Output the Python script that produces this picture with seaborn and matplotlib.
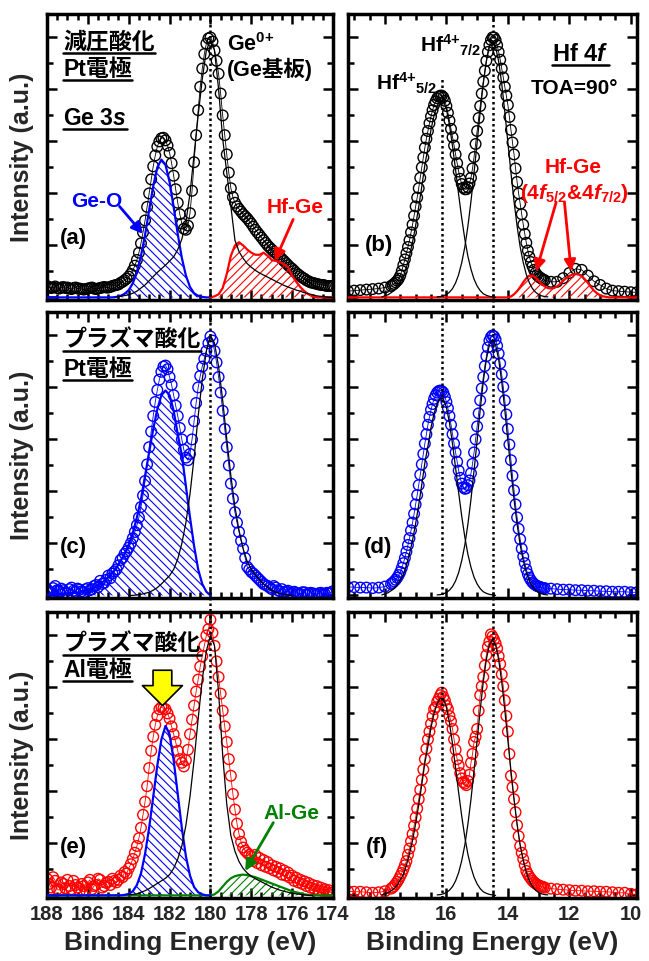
import numpy as np
import matplotlib
matplotlib.use('Agg')
import matplotlib.pyplot as plt
import seaborn as sns
from matplotlib.ticker import MultipleLocator

# ---- energy grids (eV) ----
ge_x = np.round(np.arange(188.0, 173.99, -0.1), 2)       # Ge 3s data, 0.1 eV
ge_fit_x = np.round(np.arange(188.0, 173.99, -0.2), 2)   # Ge 3s fit components
hf_x = np.round(np.concatenate([np.arange(19.2, 17.9, -0.2),
                                np.arange(17.8, 12.79, -0.05),
                                np.arange(12.6, 9.79, -0.2)]), 2)   # Hf 4f data
hf_fit_x = np.round(np.arange(19.2, 9.79, -0.1), 2)      # Hf 4f fit components

# ---- Ge 3s : measured intensity (188.0 -> 174.0 eV) ----
ge_a = [0.22, 0.20, 0.18, 0.19, 0.21, 0.18, 0.17, 0.19, 0.20, 0.18,
        0.19, 0.17, 0.16, 0.18, 0.19, 0.17, 0.17, 0.16, 0.15, 0.16,
        0.17, 0.18, 0.19, 0.17, 0.16, 0.17, 0.18, 0.19, 0.20, 0.19,
        0.19, 0.20, 0.22, 0.23, 0.24, 0.25, 0.28, 0.30, 0.33, 0.36,
        0.40, 0.45, 0.52, 0.61, 0.72, 0.86, 1.04, 1.25, 1.48, 1.74,
        2.00, 2.27, 2.52, 2.73, 2.90, 3.00, 3.06, 3.07, 3.02, 2.92,
        2.78, 2.58, 2.34, 2.08, 1.82, 1.60, 1.42, 1.32, 1.30, 1.38,
        1.62, 2.05, 2.60, 3.12, 3.60, 4.05, 4.40, 4.68, 4.88, 4.98,
        5.00, 4.92, 4.75, 4.55, 4.30, 3.92, 3.50, 3.12, 2.75, 2.40,
        2.10, 1.93, 1.82, 1.75, 1.70, 1.65, 1.60, 1.56, 1.52, 1.47,
        1.42, 1.36, 1.30, 1.25, 1.20, 1.15, 1.10, 1.05, 1.00, 0.96,
        0.92, 0.88, 0.85, 0.82, 0.78, 0.74, 0.70, 0.66, 0.62, 0.58,
        0.55, 0.51, 0.47, 0.44, 0.41, 0.38, 0.36, 0.33, 0.31, 0.29,
        0.28, 0.27, 0.26, 0.25, 0.24, 0.24, 0.23, 0.22, 0.22, 0.22,
        0.22]
ge_c = [0.12, 0.08, 0.05, 0.14, 0.18, 0.10, 0.08, 0.13, 0.10, 0.06,
        0.04, 0.12, 0.15, 0.09, 0.07, 0.13, 0.11, 0.08, 0.06, 0.12,
        0.14, 0.10, 0.12, 0.18, 0.20, 0.16, 0.28, 0.22, 0.24, 0.30,
        0.38, 0.33, 0.42, 0.46, 0.50, 0.58, 0.68, 0.72, 0.80, 0.85,
        0.92, 1.00, 1.10, 1.22, 1.35, 1.50, 1.70, 1.92, 2.20, 2.52,
        2.85, 3.15, 3.45, 3.72, 3.95, 4.15, 4.30, 4.40, 4.42, 4.35,
        4.20, 4.05, 3.85, 3.65, 3.45, 3.22, 3.00, 2.80, 2.65, 2.60,
        2.72, 3.00, 3.35, 3.70, 4.00, 4.22, 4.40, 4.55, 4.70, 4.85,
        4.98, 4.90, 4.70, 4.48, 4.20, 3.90, 3.55, 3.20, 2.85, 2.50,
        2.15, 1.86, 1.60, 1.40, 1.22, 1.05, 0.90, 0.72, 0.55, 0.50,
        0.45, 0.42, 0.38, 0.34, 0.30, 0.26, 0.22, 0.20, 0.18, 0.15,
        0.12, 0.18, 0.15, 0.10, 0.08, 0.12, 0.06, 0.08, 0.09, 0.05,
        0.04, 0.07, 0.05, 0.03, 0.03, 0.06, 0.06, 0.02, 0.03, 0.05,
        0.04, 0.03, 0.02, 0.04, 0.05, 0.02, 0.03, 0.05, 0.04, 0.06,
        0.08]
ge_e = [0.32, 0.22, 0.15, 0.35, 0.28, 0.12, 0.10, 0.25, 0.22, 0.14,
        0.30, 0.18, 0.12, 0.28, 0.20, 0.15, 0.08, 0.22, 0.18, 0.10,
        0.25, 0.30, 0.12, 0.18, 0.20, 0.32, 0.30, 0.15, 0.18, 0.24,
        0.26, 0.20, 0.32, 0.28, 0.25, 0.30, 0.38, 0.35, 0.45, 0.42,
        0.52, 0.60, 0.70, 0.82, 0.95, 1.10, 1.30, 1.55, 1.80, 2.10,
        2.45, 2.78, 3.05, 3.28, 3.45, 3.58, 3.62, 3.60, 3.58, 3.50,
        3.40, 3.25, 3.10, 2.95, 2.78, 2.62, 2.55, 2.48, 2.60, 2.80,
        3.10, 3.38, 3.65, 3.92, 4.15, 4.40, 4.60, 4.80, 5.00, 5.12,
        5.30, 5.05, 4.80, 4.50, 4.20, 3.88, 3.55, 3.25, 2.95, 2.62,
        2.30, 1.95, 1.65, 1.38, 1.18, 1.03, 0.92, 0.86, 0.82, 0.78,
        0.75, 0.66, 0.78, 0.62, 0.72, 0.58, 0.68, 0.55, 0.64, 0.52,
        0.58, 0.48, 0.55, 0.45, 0.52, 0.40, 0.48, 0.38, 0.44, 0.34,
        0.38, 0.28, 0.34, 0.25, 0.30, 0.22, 0.27, 0.18, 0.24, 0.15,
        0.20, 0.12, 0.18, 0.10, 0.15, 0.08, 0.12, 0.06, 0.10, 0.05,
        0.06]

# ---- Ge 3s : fitted components (start energy, values every 0.2 eV) ----
geo_a = (188.0, [0.0] * 17 + [0.01, 0.03, 0.07, 0.14, 0.27, 0.48, 0.80, 1.20, 1.68, 2.14,
                              2.50, 2.65, 2.55, 2.22, 1.74, 1.22, 0.76, 0.42, 0.20, 0.08,
                              0.03, 0.01, 0.0, 0.0])
ge0_a = (184.6, [0.01, 0.02, 0.035,
                 0.05, 0.08, 0.12, 0.18, 0.24, 0.32, 0.40, 0.48, 0.55, 0.62,
                 0.70, 0.78, 0.92, 1.12, 1.45, 2.00, 2.75, 3.50, 4.20, 4.75,
                 4.95, 4.75, 4.00, 3.05, 2.40, 1.75, 1.10, 0.88, 0.75, 0.65,
                 0.58, 0.52, 0.47, 0.43, 0.39, 0.35, 0.31, 0.27, 0.23, 0.20,
                 0.17, 0.14, 0.12, 0.09, 0.07, 0.05, 0.03, 0.02, 0.01, 0.0,
                 0.0])
hfge_a = (180.0, [0.0, 0.02, 0.06, 0.18, 0.45, 0.80, 1.00, 1.06, 1.00, 0.92,
                  0.86, 0.82, 0.82, 0.86, 0.80, 0.72, 0.70, 0.68, 0.64, 0.58,
                  0.42, 0.30, 0.20, 0.12, 0.06, 0.02, 0.0, 0.0, 0.0, 0.0,
                  0.0])
geo_c = (188.0, [0.01, 0.01, 0.02, 0.02, 0.03, 0.03, 0.04, 0.05, 0.06, 0.08,
                 0.10, 0.13, 0.17, 0.22, 0.28, 0.35, 0.44, 0.54, 0.66, 0.80,
                 0.98, 1.20, 1.50, 1.85, 2.30, 2.75, 3.20, 3.58, 3.85, 3.94,
                 3.85, 3.55, 3.10, 2.70, 2.10, 1.50, 0.95, 0.50, 0.22, 0.07,
                 0.0])
ge0_c = (184.0, [0.0, 0.0, 0.01, 0.02, 0.04, 0.06, 0.10, 0.15, 0.22, 0.30,
                 0.38, 0.50, 0.70, 1.00, 1.40, 1.95, 2.65, 3.45, 4.15, 4.70,
                 5.00, 4.85, 4.40, 3.75, 3.00, 2.30, 1.70, 1.25, 0.90, 0.65,
                 0.50, 0.40, 0.30, 0.22, 0.15, 0.10, 0.06, 0.04, 0.02, 0.01,
                 0.0])
geo_e = (188.0, [0.0] * 19 + [0.01, 0.03, 0.08, 0.20, 0.42, 0.80, 1.30, 1.90, 2.50, 3.00,
                              3.26, 3.10, 2.60, 1.95, 1.30, 0.75, 0.38, 0.16, 0.06, 0.02,
                              0.0, 0.0])
ge0_e = (184.0, [0.01, 0.02, 0.03, 0.06, 0.09, 0.13, 0.18, 0.23, 0.28, 0.33,
                 0.40, 0.52, 0.70, 0.95, 1.35, 1.90, 2.60, 3.40, 4.15, 4.70,
                 5.00, 4.80, 3.90, 2.70, 1.75, 1.15, 0.85, 0.65, 0.52, 0.43,
                 0.37, 0.32, 0.28, 0.24, 0.20, 0.16, 0.13, 0.10, 0.08, 0.06,
                 0.04, 0.03, 0.02, 0.01, 0.0, 0.0])
alge_e = (188.0, [0.0] * 40 + [0.0, 0.02, 0.08, 0.17, 0.26, 0.33, 0.37, 0.39, 0.40, 0.39,
                               0.37, 0.35, 0.32, 0.29, 0.26, 0.23, 0.20, 0.17, 0.14, 0.11,
                               0.08, 0.06, 0.04, 0.02, 0.01, 0.0, 0.0, 0.0, 0.0, 0.0,
                               0.0])

# ---- Hf 4f : measured intensity (19.2-18.0 by 0.2, 17.8-12.8 by 0.05, 12.6-9.8 by 0.2) ----
hf_b = ([0.12, 0.13, 0.14, 0.15, 0.16, 0.17, 0.19] +
        [0.22, 0.24, 0.26, 0.29, 0.32, 0.36, 0.42, 0.51, 0.62, 0.73,
         0.85, 0.97, 1.10, 1.25, 1.40, 1.57, 1.75, 1.92, 2.10, 2.30,
         2.50, 2.69, 2.88, 3.05, 3.20, 3.35, 3.48, 3.60, 3.70, 3.77,
         3.83, 3.86, 3.88, 3.88, 3.85, 3.78, 3.68, 3.55, 3.40, 3.24,
         3.08, 2.92, 2.75, 2.58, 2.42, 2.28, 2.18, 2.11, 2.08, 2.08,
         2.12, 2.19, 2.30, 2.48, 2.70, 2.95, 3.20, 3.45, 3.68, 3.92,
         4.15, 4.36, 4.55, 4.72, 4.85, 4.95, 5.00, 5.00, 4.95, 4.85,
         4.72, 4.57, 4.40, 4.23, 4.05, 3.88, 3.70, 3.47, 3.22, 2.98,
         2.75, 2.48, 2.22, 2.00, 1.80, 1.60, 1.40, 1.22, 1.05, 0.90,
         0.78, 0.68, 0.60, 0.53, 0.47, 0.43, 0.40, 0.38, 0.36, 0.34,
         0.33] +
        [0.30, 0.30, 0.37, 0.47, 0.55, 0.53, 0.42, 0.31, 0.24, 0.17,
         0.13, 0.12, 0.11, 0.10, 0.10])
hf_d = ([0.16, 0.16, 0.15, 0.15, 0.14, 0.15, 0.17] +
        [0.22, 0.24, 0.27, 0.30, 0.34, 0.39, 0.45, 0.53, 0.62, 0.72,
         0.84, 0.97, 1.10, 1.25, 1.40, 1.57, 1.75, 1.93, 2.12, 2.32,
         2.52, 2.72, 2.92, 3.10, 3.28, 3.43, 3.57, 3.68, 3.78, 3.85,
         3.90, 3.93, 3.94, 3.93, 3.90, 3.82, 3.72, 3.60, 3.45, 3.28,
         3.10, 2.92, 2.75, 2.57, 2.40, 2.26, 2.15, 2.08, 2.05, 2.06,
         2.12, 2.21, 2.35, 2.53, 2.75, 3.00, 3.25, 3.50, 3.75, 3.98,
         4.20, 4.41, 4.60, 4.77, 4.90, 4.97, 5.00, 4.98, 4.92, 4.80,
         4.65, 4.46, 4.25, 4.01, 3.75, 3.48, 3.20, 2.90, 2.60, 2.30,
         2.02, 1.75, 1.50, 1.28, 1.08, 0.90, 0.75, 0.62, 0.50, 0.41,
         0.34, 0.29, 0.25, 0.22, 0.20, 0.18, 0.17, 0.16, 0.15, 0.14,
         0.14] +
        [0.13, 0.12, 0.11, 0.11, 0.10, 0.10, 0.09, 0.09, 0.08, 0.08,
         0.07, 0.07, 0.07, 0.06, 0.06])
hf_f = ([0.08, 0.07, 0.07, 0.06, 0.05, 0.06, 0.08] +
        [0.13, 0.15, 0.18, 0.22, 0.26, 0.31, 0.37, 0.43, 0.50, 0.58,
         0.66, 0.78, 0.90, 1.04, 1.18, 1.34, 1.50, 1.67, 1.85, 2.03,
         2.22, 2.42, 2.62, 2.82, 3.00, 3.15, 3.30, 3.45, 3.58, 3.62,
         3.72, 3.78, 3.85, 3.90, 3.82, 3.75, 3.65, 3.58, 3.45, 3.35,
         3.20, 3.00, 2.80, 2.62, 2.50, 2.35, 2.25, 2.18, 2.15, 2.12,
         2.20, 2.32, 2.55, 2.72, 2.95, 3.05, 3.20, 3.55, 3.85, 4.02,
         4.20, 4.42, 4.62, 4.78, 4.88, 5.02, 4.98, 4.92, 4.85, 4.75,
         4.60, 4.45, 4.25, 4.02, 3.75, 3.45, 3.15, 2.72, 2.30, 2.08,
         1.85, 1.60, 1.35, 1.14, 0.95, 0.82, 0.70, 0.58, 0.47, 0.41,
         0.36, 0.32, 0.28, 0.25, 0.23, 0.21, 0.19, 0.18, 0.17, 0.16,
         0.15] +
        [0.13, 0.12, 0.11, 0.10, 0.09, 0.09, 0.08, 0.08, 0.07, 0.07,
         0.06, 0.05, 0.05, 0.03, 0.02])

# ---- Hf 4f : fitted components (start energy, values every 0.1 eV) ----
hf52_fit = (18.1, [0.01, 0.03, 0.05, 0.09, 0.13, 0.20, 0.30, 0.40, 0.58, 0.80,
                   1.06, 1.38, 1.74, 2.13, 2.55, 2.87, 3.23, 3.50, 3.69, 3.79,
                   3.78, 3.62, 3.32, 2.91, 2.45, 1.97, 1.52, 1.12, 0.79, 0.54,
                   0.35, 0.22, 0.13, 0.07, 0.04, 0.02, 0.01, 0.0])
hf72_fit = (16.3, [0.01, 0.015, 0.03, 0.055, 0.10, 0.17, 0.28, 0.44, 0.67, 0.97,
                   1.37, 1.85, 2.40, 2.98, 3.57, 4.11, 4.54, 4.82, 4.92, 4.82,
                   4.54, 4.11, 3.57, 2.98, 2.40, 1.85, 1.37, 0.97, 0.67, 0.44,
                   0.28, 0.17, 0.10, 0.055, 0.03, 0.015, 0.01])
hfge_b = (19.2, [0.0] * 52 + [0.0, 0.02, 0.06, 0.12, 0.20, 0.29, 0.37, 0.42, 0.42, 0.38,
                              0.32, 0.26, 0.21, 0.18, 0.17, 0.18, 0.21, 0.26, 0.32, 0.37,
                              0.41, 0.44, 0.45, 0.44, 0.41, 0.35, 0.28, 0.20, 0.13, 0.08,
                              0.04, 0.02, 0.01, 0.0] + [0.0] * 9)

for arr in (ge_a, ge_c, ge_e):
    assert len(arr) == len(ge_x)
for arr in (hf_b, hf_d, hf_f):
    assert len(arr) == len(hf_x)
assert len(hfge_b[1]) == len(hf_fit_x)

BLUE, RED, GREEN = '#0000ff', '#ff0000', '#008000'
FONT = ['Liberation Sans', 'Noto Sans CJK JP']

sns.set_style('ticks')
plt.rcParams['font.family'] = FONT
plt.rcParams['font.weight'] = 'bold'
plt.rcParams['mathtext.fontset'] = 'custom'
plt.rcParams['mathtext.rm'] = 'Liberation Sans:bold'
plt.rcParams['mathtext.bf'] = 'Liberation Sans:bold'
plt.rcParams['mathtext.it'] = 'Liberation Sans:bold:italic'
plt.rcParams['mathtext.default'] = 'rm'
plt.rcParams['hatch.linewidth'] = 0.8


def segment(grid, comp):
    start, vals = comp
    i = int(np.argmin(np.abs(grid - start)))
    return grid[i:i + len(vals)], np.asarray(vals)


def points(ax, x, y, color):
    # Origin style line + open symbol
    sns.lineplot(x=x, y=y, ax=ax, color=color, lw=0.6, sort=False, zorder=2)
    sns.scatterplot(x=x, y=y, ax=ax, marker='o', s=58, facecolor='none',
                    edgecolor=color, linewidth=1.0, legend=False, zorder=2)


def fit_line(ax, grid, comp):
    x, y = segment(grid, comp)
    sns.lineplot(x=x, y=y, ax=ax, color='k', lw=0.9, sort=False, zorder=4)


def hatched(ax, grid, comp, color, hatch):
    x, y = segment(grid, comp)
    ax.fill_between(x, y, 0, facecolor='none', edgecolor=color, hatch=hatch,
                    linewidth=0, zorder=3)
    sns.lineplot(x=x, y=y, ax=ax, color=color, lw=1.6, sort=False, zorder=4)


underlined = []


def txt(ax, x, y, s, size=16, color='k', ha='left', va='center', under=False):
    t = ax.text(x, y, s, transform=ax.transAxes, fontsize=size, fontweight='bold',
                color=color, ha=ha, va=va, family=FONT, zorder=6)
    if under:
        underlined.append((ax, t))
    return t


def arrow(ax, head, tail, color):
    ax.annotate('', xy=head, xytext=tail,
                arrowprops=dict(arrowstyle='-|>', color=color, lw=2,
                                mutation_scale=17, shrinkA=0, shrinkB=0), zorder=6)


def dotted(ax, x, lo=0.0, hi=1.0):
    ax.axvline(x, ymin=lo, ymax=hi, color='k', lw=1.8, ls=(0, (1, 1.2)),
               clip_on=False, zorder=5)


fig = plt.figure(figsize=(6.49, 9.61), dpi=100)
lx, lw_ = 47 / 649, 286 / 649
rx, rw = 348 / 649, 289 / 649
rows = [(961 - 300) / 961, (961 - 598) / 961, (961 - 898) / 961]
h = 286 / 961
axes = {}
for r, (kl, kr) in enumerate([('a', 'b'), ('c', 'd'), ('e', 'f')]):
    axes[kl] = fig.add_axes([lx, rows[r], lw_, h])
    axes[kr] = fig.add_axes([rx, rows[r], rw, h])

for k, ax in axes.items():
    left = k in 'ace'
    ax.set_xlim((188, 174) if left else (19.2, 9.8))
    ax.set_ylim(-0.05, 5.45)
    ax.xaxis.set_major_locator(MultipleLocator(2))
    ax.xaxis.set_minor_locator(MultipleLocator(0.5))
    ax.yaxis.set_major_locator(MultipleLocator(1))
    ax.yaxis.set_minor_locator(MultipleLocator(0.5))
    ax.tick_params(which='both', direction='in', top=True, right=True,
                   labelleft=False, width=1.8, color='k', labelsize=14.5, pad=5)
    ax.tick_params(which='major', length=7)
    ax.tick_params(which='minor', length=4)
    for sp in ax.spines.values():
        sp.set_linewidth(2.5)
        sp.set_color('k')
    if k in 'ef':
        ax.set_xlabel('Binding Energy (eV)', fontsize=19, fontweight='bold', labelpad=5)
    else:
        ax.tick_params(labelbottom=False)
    if left:
        ax.set_ylabel('Intensity (a.u.)', fontsize=18, fontweight='bold', labelpad=9)
    else:
        ax.set_ylabel('')

# (a) reduced-pressure oxidation, Pt electrode
ax = axes['a']
points(ax, ge_x, ge_a, 'k')
hatched(ax, ge_fit_x, geo_a, BLUE, '\\\\\\\\')
hatched(ax, ge_fit_x, hfge_a, RED, '////')
fit_line(ax, ge_fit_x, ge0_a)
dotted(ax, 180, -0.046, 1)
txt(ax, 0.057, 0.90, '減圧酸化', 16.5, under=True)
txt(ax, 0.057, 0.807, 'Pt電極', 16.5, under=True)
txt(ax, 0.057, 0.633, r'Ge 3$\mathit{s}$', 16.5, under=True)
txt(ax, 0.628, 0.894, r'Ge$^{\text{0+}}$', 15.5)
txt(ax, 0.628, 0.807, '(Ge基板)', 15.5)
txt(ax, 0.174, 0.343, 'Ge-O', 15, BLUE, ha='center')
arrow(ax, (183.3, 1.22), (184.45, 1.75), BLUE)
txt(ax, 0.867, 0.325, 'Hf-Ge', 15, RED, ha='center')
arrow(ax, (176.85, 0.7), (175.95, 1.5), RED)
txt(ax, 0.094, 0.215, '(a)', 16, ha='center')

# (b)
ax = axes['b']
points(ax, hf_x, hf_b, 'k')
hatched(ax, hf_fit_x, hfge_b, RED, '////')
fit_line(ax, hf_fit_x, hf52_fit)
fit_line(ax, hf_fit_x, hf72_fit)
dotted(ax, 16.15, -0.046, 0.78)
dotted(ax, 14.5, -0.046, 1)
txt(ax, 0.25, 0.865, r'Hf$^{\text{4+}}{}_{\text{7/2}}$', 15, va='baseline')
txt(ax, 0.097, 0.732, r'Hf$^{\text{4+}}{}_{\text{5/2}}$', 15, va='baseline')
txt(ax, 0.805, 0.86, r'Hf 4$\mathit{f}$', 17, ha='center', under=True)
txt(ax, 0.785, 0.738, 'TOA=90°', 15, ha='center')
txt(ax, 0.78, 0.464, 'Hf-Ge', 15, RED, ha='center')
txt(ax, 0.785, 0.372, r'(4$\mathit{f}_{\text{5/2}}$&4$\mathit{f}_{\text{7/2}}$)', 15, RED,
    ha='center')
arrow(ax, (13.08, 0.5), (12.43, 1.83), RED)
arrow(ax, (11.94, 0.5), (12.16, 1.83), RED)
txt(ax, 0.107, 0.19, '(b)', 16, ha='center')

# (c) plasma oxidation, Pt electrode
ax = axes['c']
points(ax, ge_x, ge_c, BLUE)
hatched(ax, ge_fit_x, geo_c, BLUE, '\\\\\\\\')
fit_line(ax, ge_fit_x, ge0_c)
dotted(ax, 180, -0.046, 1)
txt(ax, 0.057, 0.90, 'プラズマ酸化', 16.5, under=True)
txt(ax, 0.057, 0.80, 'Pt電極', 16.5, under=True)
txt(ax, 0.094, 0.175, '(c)', 16, ha='center')

# (d)
ax = axes['d']
points(ax, hf_x, hf_d, BLUE)
fit_line(ax, hf_fit_x, hf52_fit)
fit_line(ax, hf_fit_x, hf72_fit)
dotted(ax, 16.15, -0.046, 1)
dotted(ax, 14.5, -0.046, 1)
txt(ax, 0.103, 0.175, '(d)', 16, ha='center')

# (e) plasma oxidation, Al electrode
ax = axes['e']
points(ax, ge_x, ge_e, RED)
hatched(ax, ge_fit_x, alge_e, GREEN, '////')
hatched(ax, ge_fit_x, geo_e, BLUE, '\\\\\\\\')
fit_line(ax, ge_fit_x, ge0_e)
dotted(ax, 180, 0, 1)
txt(ax, 0.057, 0.888, 'プラズマ酸化', 16.5, under=True)
txt(ax, 0.057, 0.794, 'Al電極', 16.5, under=True)
txt(ax, 0.856, 0.297, 'Al-Ge', 15, GREEN, ha='center')
arrow(ax, (178.3, 0.47), (176.92, 1.4), GREEN)
ax.annotate('', xy=(182.35, 3.65), xytext=(182.35, 4.33),
            arrowprops=dict(arrowstyle='simple,head_length=0.8,head_width=1.6,tail_width=0.75',
                            fc='#ffff00', ec='k', lw=1.2, mutation_scale=18,
                            shrinkA=0, shrinkB=0), zorder=6)
txt(ax, 0.094, 0.175, '(e)', 16, ha='center')

# (f)
ax = axes['f']
points(ax, hf_x, hf_f, RED)
fit_line(ax, hf_fit_x, hf52_fit)
fit_line(ax, hf_fit_x, hf72_fit)
dotted(ax, 16.15, 0, 1)
dotted(ax, 14.5, 0, 1)
txt(ax, 0.099, 0.175, '(f)', 16, ha='center')

# underline the condition labels
fig.canvas.draw()
for ax, t in underlined:
    bb = t.get_window_extent()
    inv = ax.transAxes.inverted()
    (x0, y0), (x1, _) = inv.transform([[bb.x0, bb.y0 + 1], [bb.x1, bb.y1]])
    ax.plot([x0, x1], [y0, y0], transform=ax.transAxes, color='k', lw=1.8,
            clip_on=False, zorder=6)

fig.savefig('out.png', dpi=100)
